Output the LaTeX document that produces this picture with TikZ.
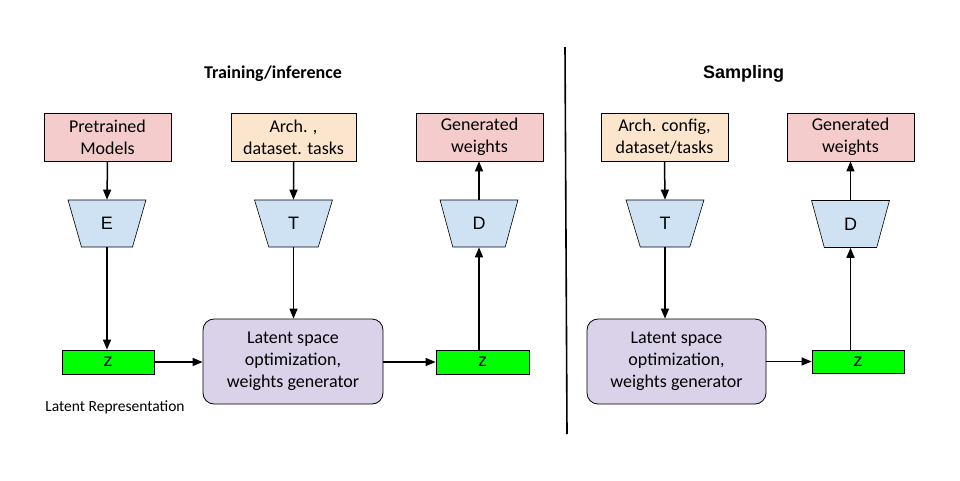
\documentclass[tikz,border=0pt]{standalone}
\usepackage{fontspec}
\setmainfont{Carlito}
\newfontfamily\arialf{Liberation Sans}
\usetikzlibrary{shapes.geometric,arrows.meta}
\definecolor{pinkc}{HTML}{F4CCCC}
\definecolor{peachc}{HTML}{FCE5CD}
\definecolor{bluec}{HTML}{CFE2F3}
\definecolor{lavc}{HTML}{D9D2E9}
\definecolor{greenc}{HTML}{00FF00}
\tikzset{
  box/.style={draw=black, line width=0.8pt, minimum width=127pt, minimum height=48pt, inner sep=0pt, align=center, font=\fontsize{18}{22}\selectfont},
  pinkbox/.style={box, fill=pinkc},
  peachbox/.style={box, fill=peachc},
  trap/.style={trapezium, draw=black, line width=0.6pt, fill=bluec, trapezium angle=75.7, shape border rotate=180, trapezium stretches=true, minimum width=78pt, minimum height=47pt, inner sep=0pt, font=\arialf\fontsize{18}{22}\selectfont},
  zbox/.style={draw=black, line width=0.8pt, fill=greenc, minimum width=92pt, minimum height=24pt, inner sep=0pt, font=\arialf\fontsize{18}{20}\selectfont},
  latbox/.style={draw=black, line width=0.8pt, fill=lavc, rounded corners=11pt, minimum width=180pt, minimum height=85pt, inner sep=0pt, align=center, font=\fontsize{18}{22}\selectfont},
  arr/.style={-{Triangle[length=10pt,width=8pt]}, line width=1.5pt},
  ttl/.style={font=\bfseries\fontsize{18}{22}\selectfont}
}
\begin{document}
\begin{tikzpicture}[x=1pt,y=-1pt]
\useasboundingbox (0,0) rectangle (960,480);
% titles
\node[ttl] (t1) at (273,74) {Training/inference};
\node[ttl,font=\arialf\bfseries\fontsize{18}{22}\selectfont] (t2) at (743.5,74) {Sampling};
% left part
\node[pinkbox] (pm) at (107.5,137) {Pretrained\\Models};
\node[trap] (E) at (107,223.5) {E};
\node[zbox] (zL) at (108,362) {z};
\node[font=\fontsize{15.5}{18}\selectfont] (lr) at (115,407) {Latent Representation};
\node[peachbox, minimum width=125pt] (a1) at (293.5,137) {Arch. ,\\dataset. tasks};
\node[trap] (T1) at (293.5,223.5) {T};
\node[latbox] (l1) at (293,361.5) {\raisebox{-3pt}{\begin{tabular}{@{}c@{}}Latent space\\optimization,\\weights generator\end{tabular}}};
\node[pinkbox] (g1) at (479.5,137) {Generated\\weights};
\node[trap] (D1) at (479,223.5) {D};
\node[zbox, minimum width=93pt] (zR) at (482.5,362) {z};
% divider
\coordinate (vt) at (565,47);
\coordinate (vb) at (567,434);
\draw[line width=1.6pt] (vt) -- (vb);
% right part
\node[peachbox] (a2) at (664.5,137) {Arch. config,\\dataset/tasks};
\node[trap] (T2) at (665,223.5) {T};
\node[latbox, minimum width=179pt] (l2) at (676.5,361.5) {\raisebox{-3pt}{\begin{tabular}{@{}c@{}}Latent space\\optimization,\\weights generator\end{tabular}}};
\node[pinkbox] (g2) at (850.5,137) {Generated\\weights};
\node[trap] (D2) at (850.5,224) {D};
\node[zbox, minimum height=23pt] (z2) at (858,361.5) {z};
% arrows left
\draw[arr] (pm.south) -- (E.north);
\draw[arr] (E.south) -- (E.south |- zL.north);
\draw[arr] (a1.south) -- (T1.north);
\draw[arr] (T1.south) -- (T1.south |- l1.north);
\draw[arr] (zL.east) -- (zL.east -| l1.west);
\draw[arr] (l1.east |- zR.west) -- (zR.west);
\draw[arr] (D1.south |- zR.north) -- (D1.south);
\draw[arr] (D1.north) -- (D1.north |- g1.south);
% arrows right
\draw[arr] (a2.south) -- (T2.north);
\draw[arr] (T2.south) -- (T2.south |- l2.north);
\draw[arr] (l2.east |- z2.west) -- (z2.west);
\draw[arr] (D2.south |- z2.north) -- (D2.south);
\draw[arr] (D2.north) -- (D2.north |- g2.south);
\end{tikzpicture}
\end{document}
